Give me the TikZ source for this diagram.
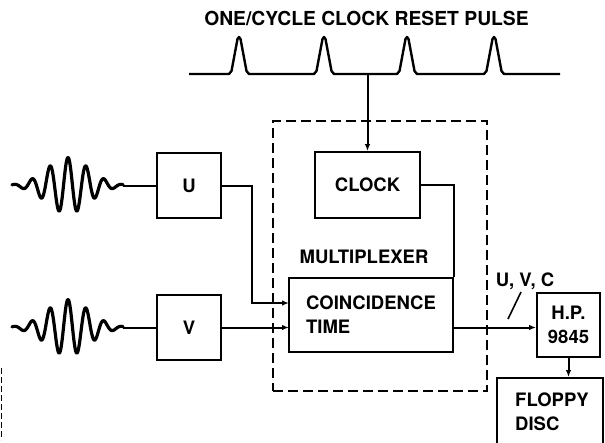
\documentclass[tikz,border=0pt]{standalone}
\usepackage{fontspec}
\setmainfont{TeX Gyre Heros}
\usetikzlibrary{arrows.meta}
\tikzset{
  blk/.style={draw, line width=1.8pt, inner sep=0pt, font=\bfseries\fontsize{18.5}{24}\selectfont},
  lbl/.style={inner sep=0pt, font=\bfseries\fontsize{18.5}{24}\selectfont},
  conn/.style={line width=2pt},
  arr/.style={line width=2pt, -{Latex[length=7pt,width=5.5pt]}},
  wave/.style={line width=3.2pt, line join=round, line cap=round},
  muxbox/.style={draw, line width=1.6pt, dash pattern=on 10pt off 5pt, inner sep=0pt}
}
\begin{document}
\begin{tikzpicture}[x=1pt,y=-1pt]
\clip (0,0) rectangle (605,442);
\fill[white] (0,0) rectangle (605,442);

% title
\node[lbl, font=\bfseries\fontsize{19.3}{24}\selectfont] (title) at (366.5,18) {ONE/CYCLE CLOCK RESET PULSE};

% pulse train
\draw[line width=2.4pt, line join=round]
  (189,74) -- (229,74) -- (231.5,71) -- (237.5,39) -- (239,37) -- (240.5,39) -- (246.5,71) -- (249,74)
  -- (314,74) -- (316.5,71) -- (322.5,39) -- (324,37) -- (325.5,39) -- (331.5,71) -- (334,74)
  -- (397,74) -- (399.5,71) -- (405.5,39) -- (407,37) -- (408.5,39) -- (414.5,71) -- (417,74)
  -- (484,74) -- (486.5,71) -- (492.5,39) -- (494,37) -- (495.5,39) -- (501.5,71) -- (504,74)
  -- (560,74);
\coordinate (tap) at (367.5,74);

% multiplexer dashed box
\node[muxbox, minimum width=214pt, minimum height=270pt] (mux) at (380,256) {};
\node[lbl] (muxlabel) at (364,257) {MULTIPLEXER};

% boxes
\node[blk, minimum width=64pt, minimum height=65pt] (U) at (189,185.5) {U};
\node[blk, minimum width=64pt, minimum height=65pt] (V) at (189,327.5) {V};
\node[blk, minimum width=105pt, minimum height=66pt] (clock) at (367.5,185) {CLOCK};
\node[blk, minimum width=164pt, minimum height=74pt, align=left] (coinc) at (371,315) {COINCIDENCE\\TIME};
\node[blk, minimum width=63pt, minimum height=64pt, align=center] (hp) at (568.5,325) {H.P.\\9845};
\node[blk, minimum width=106pt, minimum height=82pt] (floppy) at (550,419) {};
\node[lbl, anchor=west, align=left] (floppytext) at (515,411.5) {FLOPPY\\DISC};
\node[lbl] (uvc) at (525,281) {U, V, C};

% waves
\draw[wave] plot[domain=12:123, samples=220, smooth] (\x, {185.5 - 28*exp(0-((\x-68)*(\x-68))/900)*cos(20*(\x-68))});
\draw[wave] plot[domain=12:123, samples=220, smooth] (\x, {327.5 - 28*exp(0-((\x-68)*(\x-68))/900)*cos(20*(\x-68))});
\coordinate (wUend) at (123,185.5);
\coordinate (wVend) at (123,327.5);
\draw[conn] (wUend) -- (U.west);
\draw[conn] (wVend) -- (V.west);

% connectors
\coordinate (cinU) at (289,303);
\coordinate (cinV) at (289,327.5);
\coordinate (cout) at (453,327.5);
\draw[arr] (tap) -- (clock.north);
\draw[arr] (U.east) -- (252,185.5) |- (cinU);
\draw[arr] (V.east) -- (cinV);
\draw[conn] (clock.east) -| (coinc.north east);
\draw[arr] (cout) -- (cout -| hp.west);
\draw[arr] (hp.south) -- (hp.south |- floppy.north);
\draw[line width=1.6pt] (508,319) -- (521,292);

% scan mark at left edge
\draw[line width=1pt, dash pattern=on 6pt off 3pt] (1.5,368) -- (1.5,440);
\end{tikzpicture}
\end{document}
